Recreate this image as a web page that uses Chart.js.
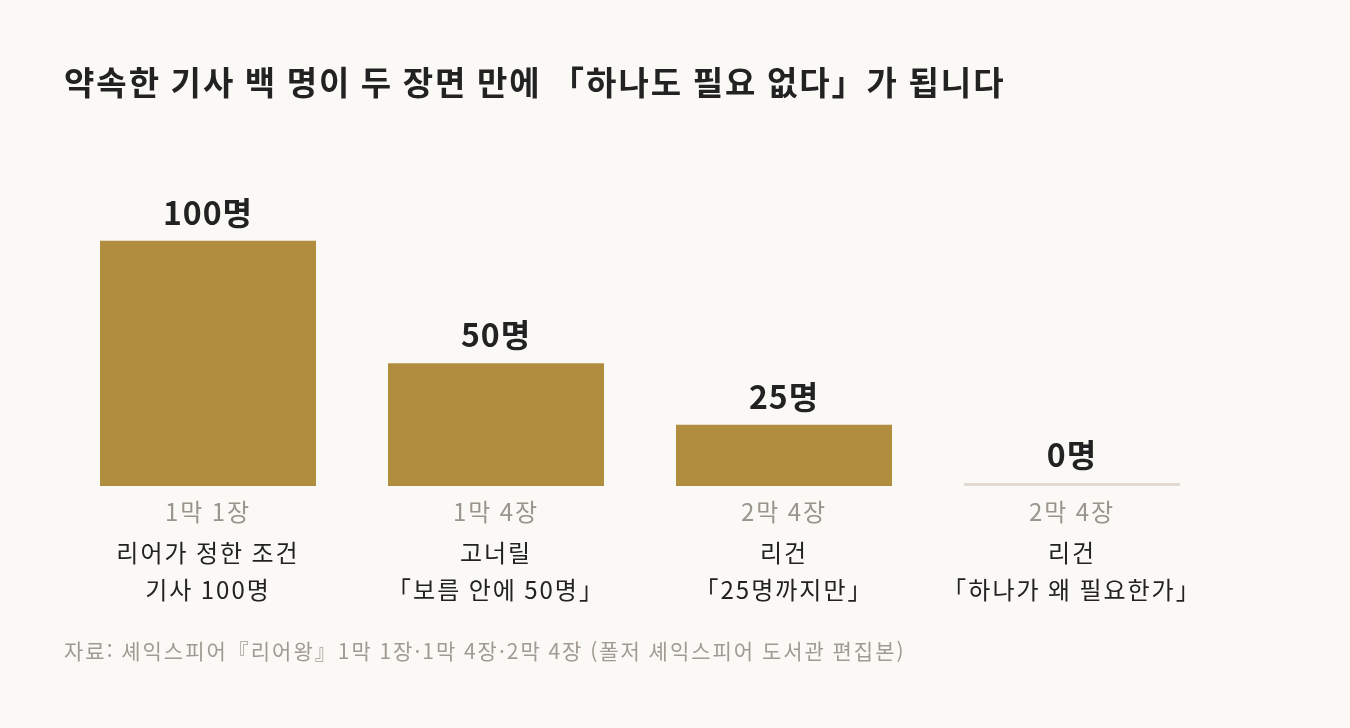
<!DOCTYPE html>
<html lang="ko">
<head>
<meta charset="utf-8">
<script src="https://cdn.jsdelivr.net/npm/chart.js@4.4.1/dist/chart.umd.min.js"></script>
<style>
  html, body { margin: 0; padding: 0; background: #faf9f6; }
  #wrap { width: 1350px; height: 728px; }
</style>
</head>
<body>
<div id="wrap"><canvas id="myChart"></canvas></div>
<script>
const scenes = ["1막 1장", "1막 4장", "2막 4장", "2막 4장"];
const quotes = [
  ["리어가 정한 조건", "기사 100명"],
  ["고너릴", "「보름 안에 50명」"],
  ["리건", "「25명까지만」"],
  ["리건", "「하나가 왜 필요한가」"],
];
const knights = [100, 50, 25, 0];
const valueLabels = ["100명", "50명", "25명", "0명"];

const FONT = "'Noto Sans CJK KR', 'Noto Sans', sans-serif";
const GOLD = "#b08d3f";
const EMPTY = "#e2d9d0";
const SPACING = "2px";

// the reference type is a bit wider, so open the letters up a little
const letterSpacing = {
  id: "letterSpacing",
  beforeUpdate(chart) { chart.ctx.letterSpacing = SPACING; },
  beforeDraw(chart) { chart.ctx.letterSpacing = SPACING; },
};

// value labels above each bar
const barLabels = {
  id: "barLabels",
  afterDatasetsDraw(chart) {
    const ctx = chart.ctx;
    const meta = chart.getDatasetMeta(0);
    ctx.save();
    ctx.letterSpacing = "1px";
    ctx.font = "bold 32px " + FONT;
    ctx.fillStyle = "#222222";
    ctx.textAlign = "center";
    ctx.textBaseline = "bottom";
    meta.data.forEach((bar, i) => {
      ctx.fillText(valueLabels[i], bar.x, bar.y - 12);
    });
    ctx.restore();
  },
};

new Chart("myChart", {
  type: "bar",
  data: {
    labels: scenes,
    datasets: [
      {
        data: knights,
        backgroundColor: knights.map((v) => (v === 0 ? EMPTY : GOLD)),
        borderWidth: 0,
        minBarLength: 3,
        barPercentage: 0.75,
        categoryPercentage: 1,
      },
    ],
  },
  options: {
    responsive: true,
    maintainAspectRatio: false,
    animation: false,
    layout: { padding: { left: 64, right: 134, top: 0, bottom: 0 } },
    plugins: {
      legend: { display: false },
      tooltip: { enabled: false },
      title: {
        display: true,
        align: "start",
        text: "약속한 기사 백 명이 두 장면 만에 「하나도 필요 없다」가 됩니다",
        color: "#222222",
        font: { family: FONT, size: 33, weight: "bold", lineHeight: 1.2 },
        padding: { top: 63, bottom: 138 },
      },
      subtitle: {
        display: true,
        position: "bottom",
        align: "start",
        text: "자료: 셰익스피어『리어왕』1막 1장·1막 4장·2막 4장 (폴저 셰익스피어 도서관 편집본)",
        color: "#a09a92",
        font: { family: FONT, size: 21, lineHeight: 1.2 },
        padding: { top: 32, bottom: 64 },
      },
    },
    scales: {
      x: {
        grid: { display: false, drawTicks: false },
        border: { display: false },
        ticks: {
          color: "#9a948c",
          font: { family: FONT, size: 24, lineHeight: 1.2 },
          padding: 11,
          maxRotation: 0,
          autoSkip: false,
        },
      },
      x2: {
        type: "category",
        position: "bottom",
        labels: quotes,
        offset: true,
        grid: { display: false, drawTicks: false },
        border: { display: false },
        ticks: {
          color: "#222222",
          font: { family: FONT, size: 24, lineHeight: 1.54 },
          padding: -2,
          maxRotation: 0,
          autoSkip: false,
        },
      },
      y: {
        display: false,
        min: 0,
        max: 100,
      },
    },
  },
  plugins: [letterSpacing, barLabels],
});
</script>
</body>
</html>
